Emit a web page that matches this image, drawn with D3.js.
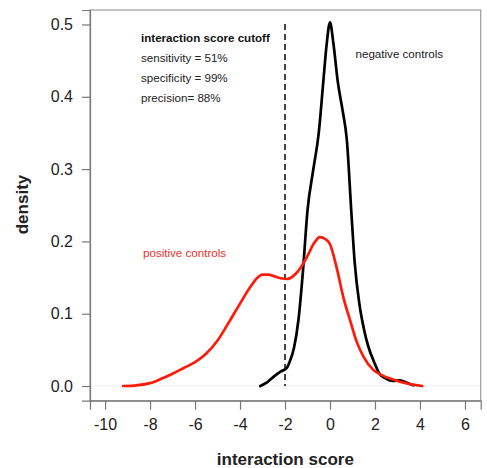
<!DOCTYPE html>
<html>
<head>
<meta charset="utf-8">
<script src="https://cdn.jsdelivr.net/npm/d3@7"></script>
<style>
  html, body { margin: 0; padding: 0; background: #fff; }
  svg { display: block; font-family: "Liberation Sans", Arial, Helvetica, sans-serif; }
</style>
</head>
<body>
<svg id="chart" width="487" height="468"></svg>
<script>
// ---- data ----
const negX = [-3.1, -2.8, -2.5, -2.2, -1.95, -1.8, -1.6, -1.4, -1.2, -1.0, -0.75, -0.5, -0.3, -0.15, 0, 0.15, 0.35, 0.55, 0.75, 0.95, 1.1, 1.3, 1.5, 1.7, 1.95, 2.2, 2.5, 2.8, 3.1, 3.4, 3.7];
const negY = [0.0, 0.005, 0.013, 0.020, 0.024, 0.033, 0.053, 0.092, 0.160, 0.243, 0.298, 0.350, 0.420, 0.472, 0.503, 0.474, 0.420, 0.383, 0.340, 0.240, 0.170, 0.115, 0.080, 0.055, 0.034, 0.017, 0.010, 0.007, 0.008, 0.005, 0.001];

const posX = [-9.2, -8.6, -8.0, -7.5, -7.0, -6.5, -6.0, -5.5, -5.0, -4.5, -4.0, -3.5, -3.25, -3.0, -2.75, -2.5, -2.2, -1.9, -1.6, -1.3, -1.0, -0.7, -0.45, -0.2, 0, 0.3, 0.6, 0.9, 1.2, 1.5, 1.9, 2.3, 2.7, 3.1, 3.5, 4.1];
const posY = [0.0, 0.001, 0.004, 0.010, 0.017, 0.025, 0.033, 0.045, 0.063, 0.088, 0.114, 0.139, 0.149, 0.154, 0.154, 0.152, 0.149, 0.148, 0.153, 0.164, 0.180, 0.198, 0.206, 0.203, 0.196, 0.163, 0.122, 0.090, 0.060, 0.040, 0.023, 0.015, 0.010, 0.006, 0.003, 0.0];

const xTicks = [-10, -8, -6, -4, -2, 0, 2, 4, 6];
const yTicks = [0.0, 0.1, 0.2, 0.3, 0.4, 0.5];
const cutoff = -2;
const infoLines = ["sensitivity = 51%", "specificity = 99%", "precision= 88%"];
const infoTitle = "interaction score cutoff";
const negLabel = "negative controls";
const posLabel = "positive controls";
const xTitle = "interaction score";
const yTitle = "density";

// ---- layout ----
const svg = d3.select("#chart");
const L = 90, R = 480.7, T = 10, B = 400.7;
const x = d3.scaleLinear().domain([-10.67, 6.70]).range([L, R]);
const y = d3.scaleLinear().domain([-0.0203, 0.520]).range([B, T]);

// zero line
svg.append("line")
  .attr("x1", L).attr("x2", R).attr("y1", y(0)).attr("y2", y(0))
  .attr("stroke", "#f2f2f2").attr("stroke-width", 1);

// box
svg.append("rect")
  .attr("x", L).attr("y", T).attr("width", R - L).attr("height", B - T)
  .attr("fill", "none").attr("stroke", "#9a9a9a").attr("stroke-width", 1.2);

// axes
const xAxis = d3.axisBottom(x).tickValues(xTicks).tickSize(9).tickPadding(10)
  .tickFormat(d => d3.format("d")(d).replace("−", "-"));
const gx = svg.append("g").attr("transform", `translate(0,${B})`).call(xAxis);
gx.select(".domain").attr("stroke", "#777").attr("stroke-width", 1.2);
gx.selectAll(".tick line").attr("stroke", "#777").attr("stroke-width", 1.2);
gx.selectAll(".tick text").attr("font-size", 16).attr("fill", "#222")
  .attr("font-family", "'Liberation Sans', Arial, sans-serif")
  .attr("dy", null).attr("y", 29.3);

const yAxis = d3.axisLeft(y).tickValues(yTicks).tickSize(8).tickPadding(9)
  .tickFormat(d3.format(".1f"));
const gy = svg.append("g").attr("transform", `translate(${L},0)`).call(yAxis);
gy.select(".domain").attr("stroke", "#777").attr("stroke-width", 1.2);
gy.selectAll(".tick line").attr("stroke", "#777").attr("stroke-width", 1.2);
gy.selectAll(".tick text").attr("font-size", 16).attr("fill", "#222")
  .attr("font-family", "'Liberation Sans', Arial, sans-serif");

// cutoff dashed line
svg.append("line")
  .attr("x1", x(cutoff)).attr("x2", x(cutoff))
  .attr("y1", 24).attr("y2", y(0))
  .attr("stroke", "#444").attr("stroke-width", 2)
  .attr("stroke-dasharray", "6,4");

// curves
const line = d3.line().x(d => x(d[0])).y(d => y(d[1])).curve(d3.curveMonotoneX);
const negData = negX.map((v, i) => [v, negY[i]]);
const posData = posX.map((v, i) => [v, posY[i]]);

svg.append("path").datum(negData).attr("d", line)
  .attr("fill", "none").attr("stroke", "#000").attr("stroke-width", 2.7)
  .attr("stroke-linejoin", "round").attr("stroke-linecap", "round");
svg.append("path").datum(posData).attr("d", line)
  .attr("fill", "none").attr("stroke", "#ff1a0a").attr("stroke-width", 2.7)
  .attr("stroke-linejoin", "round").attr("stroke-linecap", "round");

// annotations
svg.append("text").attr("x", 141).attr("y", 41.5)
  .attr("font-size", 11.6).attr("font-weight", "bold").attr("fill", "#111")
  .text(infoTitle);
infoLines.forEach((t, i) => {
  svg.append("text").attr("x", 141).attr("y", 62 + i * 20.2)
    .attr("font-size", 11.6).attr("fill", "#222").text(t);
});
svg.append("text").attr("x", 355.5).attr("y", 57.5)
  .attr("font-size", 11.6).attr("fill", "#222").text(negLabel);
svg.append("text").attr("x", 143).attr("y", 256.5)
  .attr("font-size", 11.6).attr("fill", "#e8322a").text(posLabel);

// titles
svg.append("text").attr("x", (L + R) / 2).attr("y", 465)
  .attr("text-anchor", "middle").attr("font-size", 17).attr("font-weight", "bold")
  .attr("fill", "#222").text(xTitle);
svg.append("text")
  .attr("transform", `translate(28,204.5) rotate(-90)`)
  .attr("text-anchor", "middle").attr("font-size", 17).attr("font-weight", "bold")
  .attr("fill", "#222").text(yTitle);
</script>
</body>
</html>
